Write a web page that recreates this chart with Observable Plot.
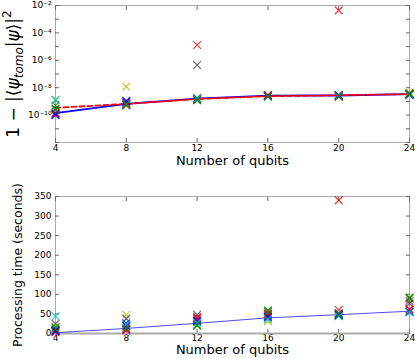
<!DOCTYPE html>
<html><head><meta charset="utf-8">
<script src="https://cdn.jsdelivr.net/npm/d3@7"></script>
<script src="https://cdn.jsdelivr.net/npm/@observablehq/plot@0.6"></script>
<style>
body{margin:0;background:#fff;font-family:"DejaVu Sans",sans-serif;}
#c{width:415px;}
svg{display:block;}
</style></head>
<body><div id="c"></div>
<script>
const qubits = [4, 8, 12, 16, 20, 24];
const trialColors = ["#bf00bf","#bfbf00","#404040","#ff0000","#008000","#0000ff","#ff0000","#0000ff","#00bfbf","#008000"];
// infidelity per qubit count, one entry per trial
const infid4  = [1.5e-10, 1.3e-9, 3e-10, 1.3e-10, 5e-10, 1.2e-10, 1.1e-10, 1.0e-10, 1.3e-9, 2.5e-10];
const infid8  = [7e-10, 1.2e-8, 8e-10, 5e-10, 6e-10, 1.0e-9, 6.5e-10, 1.1e-9, 6e-10, 5.5e-10];
const infid12 = [1.4e-9, 1.8e-9, 4.5e-7, 1.3e-5, 1.3e-9, 1.5e-9, 1.5e-9, 1.7e-9, 1.6e-9, 1.2e-9];
const infid16 = [2.4e-9, 2.6e-9, 2.7e-9, 2.8e-9, 2.6e-9, 2.5e-9, 2.9e-9, 2.4e-9, 2.2e-9, 2.3e-9];
const infid20 = [2.3e-9, 2.9e-9, 2.7e-9, 4.4e-3, 2.8e-9, 2.6e-9, 2.2e-9, 2.8e-9, 2.5e-9, 2.4e-9];
const infid24 = [2.9e-9, 4.5e-9, 3.8e-9, 3.2e-9, 3.5e-9, 3.3e-9, 3.6e-9, 3.1e-9, 3.0e-9, 3.4e-9];
const infidSolid  = [1.4e-10, 6.5e-10, 1.6e-9, 2.6e-9, 2.7e-9, 3.4e-9];
const infidDashed = [3.4e-10, 6.5e-10, 1.5e-9, 2.4e-9, 2.8e-9, 3.4e-9];
// processing time (seconds)
const time4  = [7, 14, 25, 5, 16, 8, 3, 6, 44, 12];
const time8  = [8, 48, 38, 10, 18, 26, 13, 20, 23, 12];
const time12 = [38, 30, 48, 42, 20, 33, 40, 31, 28, 22];
const time16 = [46, 31, 48, 51, 59, 43, 50, 41, 36, 56];
const time20 = [50, 46, 52, 340, 46, 48, 60, 47, 44, 50];
const time24 = [83, 88, 77, 61, 92, 56, 62, 55, 54, 90];
const timeLine = [2, 13, 26, 40, 48, 57];

const decadeTicks = d3.range(-12, -1).map(e => Math.pow(10, e));
const labelDecades = [-2, -4, -6, -8, -10];
const timeTicks = [0, 50, 100, 150, 200, 250, 300, 350];
const supMap = {"-":"⁻","0":"⁰","1":"¹","2":"²","3":"³","4":"⁴","5":"⁵","6":"⁶","7":"⁷","8":"⁸","9":"⁹"};

const infidAll = [infid4, infid8, infid12, infid16, infid20, infid24];
const timeAll = [time4, time8, time12, time16, time20, time24];
const toPoints = arrs => arrs.flatMap((vals, i) => vals.map((v, t) => ({n: qubits[i], v, t, color: trialColors[t]})))
  .sort((a, b) => a.t - b.t);
const infidPts = toPoints(infidAll);
const timePts = toPoints(timeAll);
const lineRows = (vals) => vals.map((v, i) => ({n: qubits[i], v}));

const TOPTITLE = "TOPTITLE";
const axisFont = {fontSize: 9, fontFamily: "DejaVu Sans", label: null};
const tickOnly = {tickSize: -4, tickFormat: () => "", stroke: "#666", label: null};

const topPlot = Plot.plot({
  width: 415, height: 180,
  marginLeft: 55, marginRight: 6, marginTop: 5, marginBottom: 38,
  style: {fontFamily: "DejaVu Sans", fontSize: "9px", color: "#000"},
  x: {domain: [4, 24], axis: null},
  y: {type: "log", domain: [1e-12, 1e-2], axis: null},
  marks: [
    Plot.frame({stroke: "#aaa"}),
    Plot.axisY(decadeTicks, {anchor: "left", ...tickOnly}),
    Plot.axisY(decadeTicks, {anchor: "right", ...tickOnly}),
    Plot.axisY(labelDecades.map(e => Math.pow(10, e)), {anchor: "left", tickSize: 0, tickPadding: 4,
      tickFormat: d => "10" + String(Math.round(Math.log10(d))).split("").map(c => supMap[c]).join(""), ...axisFont}),
    Plot.axisX(qubits, {anchor: "bottom", ...tickOnly}),
    Plot.axisX(qubits, {anchor: "top", ...tickOnly}),
    Plot.axisX(qubits, {anchor: "bottom", tickSize: 0, tickPadding: 2, ...axisFont}),
    Plot.text(["Number of qubits"], {frameAnchor: "bottom", dy: 22, text: d => d, fontSize: 13, fontFamily: "DejaVu Sans"}),
    Plot.text([TOPTITLE], {frameAnchor: "left", dx: -42, text: d => d, rotate: -90, textAnchor: "middle", fontSize: 17, fontFamily: "DejaVu Sans"}),
    Plot.line(lineRows(infidSolid), {x: "n", y: "v", stroke: "#0000ff", strokeWidth: 1.8}),
    Plot.line(lineRows(infidDashed), {x: "n", y: "v", stroke: "#ff0000", strokeWidth: 1.8, strokeDasharray: "5,3"}),
    Plot.dot(infidPts, {x: "n", y: "v", stroke: "color", symbol: "times", r: 3.6, strokeWidth: 1.2, strokeOpacity: 0.8})
  ]
});

const bottomPlot = Plot.plot({
  width: 415, height: 179,
  marginLeft: 55, marginRight: 6, marginTop: 16, marginBottom: 26,
  style: {fontFamily: "DejaVu Sans", fontSize: "9px", color: "#000"},
  x: {domain: [4, 24], axis: null},
  y: {domain: [0, 350], axis: null},
  marks: [
    Plot.frame({stroke: "#aaa"}),
    Plot.axisY(timeTicks, {anchor: "left", ...tickOnly}),
    Plot.axisY(timeTicks, {anchor: "right", ...tickOnly}),
    Plot.axisY(timeTicks, {anchor: "left", tickSize: 0, tickPadding: 4, ...axisFont}),
    Plot.axisX(qubits, {anchor: "bottom", ...tickOnly}),
    Plot.axisX(qubits, {anchor: "top", ...tickOnly}),
    Plot.axisX(qubits, {anchor: "bottom", tickSize: 0, tickPadding: 1, ...axisFont}),
    Plot.ruleY([0], {stroke: "#aaa", strokeWidth: 2}),
    Plot.text(["Number of qubits"], {frameAnchor: "bottom", dy: 20, text: d => d, fontSize: 13, fontFamily: "DejaVu Sans"}),
    Plot.text(["Processing time (seconds)"], {frameAnchor: "left", dx: -38, text: d => d, rotate: -90, textAnchor: "middle", fontSize: 12.5, fontFamily: "DejaVu Sans"}),
    Plot.line(lineRows(timeLine), {x: "n", y: "v", stroke: "#0000ff", strokeWidth: 1, strokeOpacity: 0.7}),
    Plot.dot(timePts, {x: "n", y: "v", stroke: "color", symbol: "times", r: 3.6, strokeWidth: 1.2, strokeOpacity: 0.8})
  ]
});

// build the math-style title with sub/superscripts
d3.select(topPlot).selectAll("text").filter(function(){ return this.textContent === TOPTITLE; }).each(function(){
  const t = d3.select(this);
  t.text(null);
  t.append("tspan").text("1 − |⟨");
  t.append("tspan").attr("font-style", "italic").text("ψ");
  t.append("tspan").attr("font-style", "italic").attr("font-size", 12).attr("dy", 4).text("tomo");
  t.append("tspan").attr("dy", -4).text("|");
  t.append("tspan").attr("font-style", "italic").text("ψ");
  t.append("tspan").text("⟩|");
  t.append("tspan").attr("font-size", 12).attr("dy", -8).text("2");
});

document.getElementById("c").append(topPlot, bottomPlot);
</script></body></html>
